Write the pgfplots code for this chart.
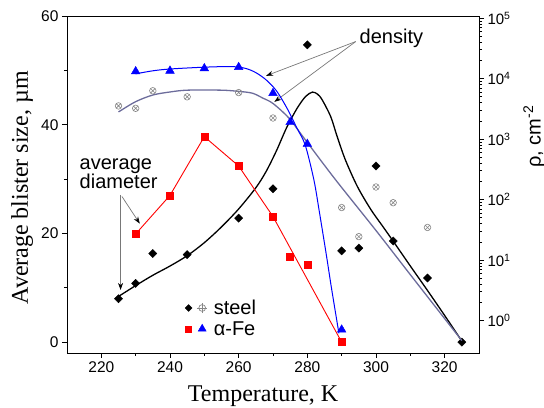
\documentclass[border=0pt]{standalone}
\usepackage{fontspec}
\setmainfont{Liberation Sans}
\newfontfamily\seriffont{Liberation Serif}
\usepackage{pgfplots}
\pgfplotsset{compat=1.18}
\usetikzlibrary{arrows.meta}
\definecolor{slate}{RGB}{108,108,155}
\definecolor{ptgray}{RGB}{135,135,135}
\definecolor{arrgray}{RGB}{120,120,120}

\pgfplotstableread{
x y
225 8.0
230 10.8
235 16.3
245 16.1
260 22.8
270 28.2
280 54.7
290 16.8
295 17.3
300 32.4
305 18.6
315 11.8
325 0
}\steelsize

\pgfplotstableread{
x y
224 8.0
230 10.4
235 12.3
240 14.0
245 15.9
250 18.3
255 21.2
260 24.5
265 28.4
268 31.4
271 35.2
274 39.5
277 43.0
279.5 45.2
281.5 46.0
283 45.6
284.3 44.6
286.8 41.5
288.7 37.8
291.1 33.5
294.6 28.6
298.5 24.4
302.3 21.0
305.3 18.3
310 14.0
315 9.5
320 4.9
325 0.2
}\steelfit

\pgfplotstableread{
x y
230 19.9
240 27.0
250 37.8
260 32.4
270 23.1
275 15.8
280 14.3
290 0
}\fesize

\pgfplotstableread{
x y
230 19.9
240 27.0
250 37.8
260 32.4
270 23.1
290 0
}\feline

\pgfplotstableread{
x y
230 13183
240 13490
250 14791
260 15488
270 5754
275 1905
280 832
290 0.708
}\fedens

\pgfplotstableread{
x y
230 12023
235 13490
240 14454
250 15488
258 15849
262 14791
265 12589
268 9550
271 6310
274 3311
277 1514
279.4 794
281.9 214
283.5 63.1
285.5 12.6
287 3.55
289.2 0.617
}\fedensfit

\pgfplotstableread{
x y
225 3548
230 3236
235 6310
245 5012
260 5888
270 2239
290 74.1
295 24.5
300 162
305 89.1
315 34.7
}\steeldens

\pgfplotstableread{
x y
225 2818
230 4169
235 5370
240 6026
245 6457
255 6457
260 6166
264 5754
267 4786
270 3890
274.6 2239
279.4 977
288.2 214
300 30.9
310 5.75
325 0.468
}\steeldensfit

\begin{document}
\begin{tikzpicture}
\begin{axis}[name=ax, scale only axis, width=412pt, height=337pt,
  xmin=210, xmax=330, ymin=-2, ymax=60,
  xtick={220,240,...,320}, minor xtick={230,250,...,310},
  ytick={0,20,40,60}, minor ytick={10,30,50},
  xtick pos=bottom, ytick pos=left,
  tick align=outside, major tick length=5pt, minor tick length=3pt,
  every tick/.style={black, line width=0.8pt},
  axis line style={black, line width=0.9pt},
  ticklabel style={font=\fontsize{15.5}{18}\selectfont},
  /pgf/number format/assume math mode=true,
  xlabel={Temperature, K}, ylabel={Average blister size, µm},
  every axis x label/.style={at={(axis description cs:0.476,-0.145)}, anchor=base, font=\fontsize{24}{28}\selectfont\seriffont},
  every axis y label/.style={at={(axis description cs:-0.109,0.49)}, rotate=90, anchor=center, font=\fontsize{24}{28}\selectfont\seriffont},
  legend style={at={(axis description cs:0.2864,0.102)}, anchor=west, draw=none, fill=none,
    inner sep=0pt, row sep=2pt, font=\fontsize{20}{22}\selectfont, cells={anchor=west}},
]
\addlegendimage{legend image code/.code={%
  \path[draw=none,fill=none] (0pt,0pt) rectangle (26pt,0.1pt);
  \draw[black,fill=black] plot[mark=square*,mark size=2.4pt,mark options={rotate=45}] coordinates {(2.8pt,0pt)};
  \draw[ptgray,line width=0.7pt,fill=none] (16.4pt,0pt) circle[radius=3.4pt];
  \draw[ptgray,line width=0.7pt] (11.2pt,0pt) -- (21.6pt,0pt) (16.4pt,-5.2pt) -- (16.4pt,5.2pt);
}}
\addlegendentry{steel}
\addlegendimage{legend image code/.code={%
  \path[draw=none,fill=none] (0pt,0pt) rectangle (26pt,0.1pt);
  \draw[red,fill=red] plot[mark=square*,mark size=3pt] coordinates {(2.8pt,0pt)};
  \draw[blue,fill=blue] plot[mark=triangle*,mark size=4.6pt] coordinates {(16.4pt,0.8pt)};
}}
\addlegendentry{α-Fe}

\addplot[black, line width=1.3pt, smooth, tension=0.5, forget plot] table {\steelfit};
\addplot[red, line width=0.9pt, forget plot] table {\feline};
\addplot[only marks, mark=square*, mark size=3.5pt, red, forget plot] table {\fesize};
\addplot[only marks, mark=square*, mark size=2.9pt, mark options={rotate=45, fill=black}, black, forget plot] table {\steelsize};

\draw[arrgray, line width=0.7pt, -{Stealth[black,length=7pt,width=5pt]}] (axis cs:294.1,55.3) -- (axis cs:268.0,49.0);
\draw[arrgray, line width=0.7pt, -{Stealth[black,length=7pt,width=5pt]}] (axis cs:294.1,55.3) -- (axis cs:270.4,44.2);
\node[anchor=base west, inner sep=0pt, font=\fontsize{20}{22}\selectfont] at (axis cs:295.2,54.9) {density};

\node[anchor=base west, inner sep=0pt, font=\fontsize{20}{22}\selectfont] at (axis cs:213.65,31.7) {average};
\node[anchor=base west, inner sep=0pt, font=\fontsize{20}{22}\selectfont] at (axis cs:213.65,28.2) {diameter};
\draw[arrgray, line width=0.7pt, -{Stealth[black,length=7pt,width=5pt]}] (axis cs:225.6,27.1) -- (axis cs:225.6,9.6);
\draw[arrgray, line width=0.7pt, -{Stealth[black,length=7pt,width=5pt]}] (axis cs:226.0,26.8) -- (axis cs:231.2,21.8);
\end{axis}

\begin{axis}[scale only axis, width=412pt, height=337pt,
  xmin=210, xmax=330, ymode=log, ymin=0.292, ymax=108700,
  axis x line=none, axis y line*=right,
  ytick={1,10,100,1000,10000,100000},
  yticklabels={10\textsuperscript{0},10\textsuperscript{1},10\textsuperscript{2},10\textsuperscript{3},10\textsuperscript{4},10\textsuperscript{5}},
  tick align=outside, major tick length=5pt, minor tick length=3pt,
  every tick/.style={black, line width=0.8pt},
  axis line style={black, line width=0.9pt},
  ticklabel style={font=\fontsize{15}{18}\selectfont},
]
\addplot[slate, line width=1.3pt, smooth, tension=0.5] table {\steeldensfit};
\addplot[blue, line width=1pt, smooth, tension=0.5] table {\fedensfit};
\addplot[only marks, mark=otimes, mark size=3.3pt, ptgray, line width=0.6pt] table {\steeldens};
\addplot[only marks, mark=triangle*, mark size=5pt, blue] table {\fedens};
\end{axis}

\node[rotate=90, font=\fontsize{20}{24}\selectfont] at ([xshift=55pt,yshift=-120.5pt]ax.north east) {ρ, cm\textsuperscript{-2}};

\pgfresetboundingbox
\path[use as bounding box] ([xshift=-67pt,yshift=-55pt]ax.south west) rectangle ([xshift=65pt,yshift=16pt]ax.north east);
\end{tikzpicture}
\end{document}
